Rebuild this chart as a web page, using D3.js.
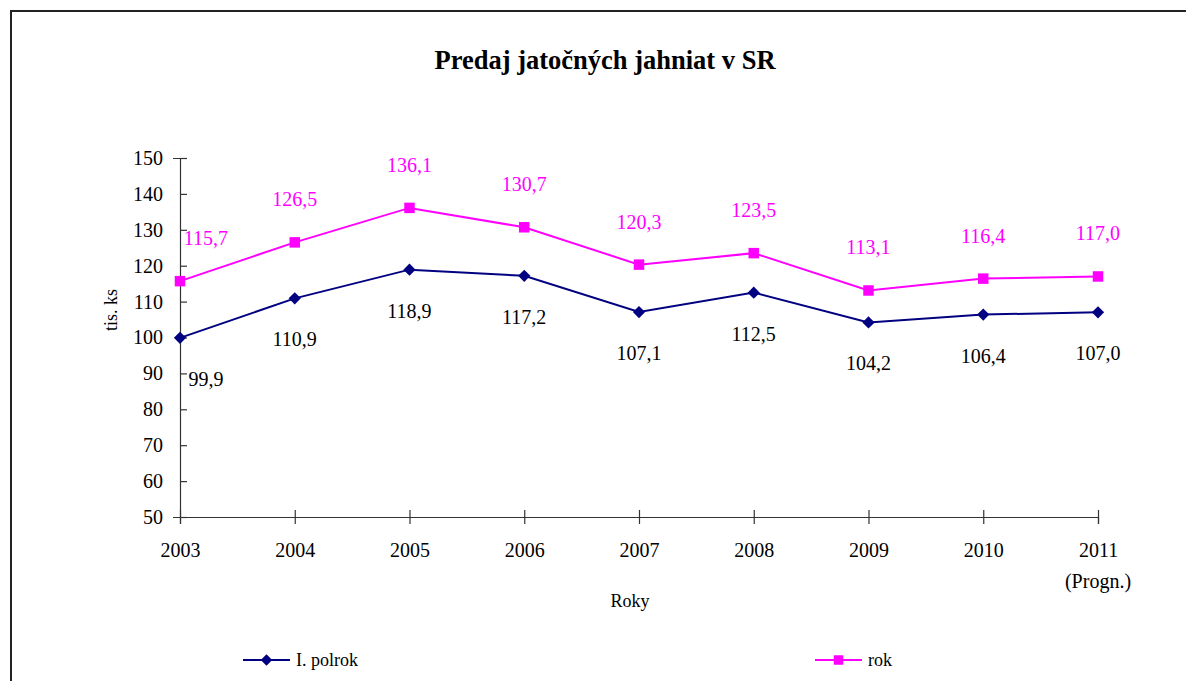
<!DOCTYPE html>
<html>
<head>
<meta charset="utf-8">
<script src="https://cdn.jsdelivr.net/npm/d3@7/dist/d3.min.js"></script>
<style>
  body { margin: 0; background: #fff; }
</style>
</head>
<body>
<div id="chart"></div>
<script>
'use strict';

var years = ['2003', '2004', '2005', '2006', '2007', '2008', '2009', '2010', '2011'];
var polrok = [99.9, 110.9, 118.9, 117.2, 107.1, 112.5, 104.2, 106.4, 107.0];
var rok = [115.7, 126.5, 136.1, 130.7, 120.3, 123.5, 113.1, 116.4, 117.0];
var yTicks = [50, 60, 70, 80, 90, 100, 110, 120, 130, 140, 150];

var width = 1186, height = 681;
var serif = "'Liberation Serif', 'Times New Roman', serif";
var fmt = function(v) { return v.toFixed(1).replace('.', ','); };

var svg = d3.select('#chart')
            .append('svg')
            .attr('width', width)
            .attr('height', height)
            .attr('font-family', serif);

// outer frame
svg.append('path')
   .attr('d', 'M11,' + height + 'V11H' + width)
   .attr('fill', 'none')
   .attr('stroke', '#222')
   .attr('stroke-width', 2);

var x = d3.scalePoint().domain(years).range([180, 1098]);
var y = d3.scaleLinear().domain([50, 150]).range([517, 158]);

// title
svg.append('text')
   .attr('x', 605)
   .attr('y', 69)
   .attr('text-anchor', 'middle')
   .attr('font-family', serif)
   .attr('font-size', 26.5)
   .attr('font-weight', 'bold')
   .text('Predaj jatočných jahniat v SR');

// y axis
var yAxis = svg.append('g')
   .attr('transform', 'translate(180,0)')
   .call(d3.axisLeft(y).tickValues(yTicks).tickSize(7).tickPadding(10));
yAxis.selectAll('.tick line').attr('x2', 7);

// x axis
var xAxis = svg.append('g')
   .attr('transform', 'translate(0,517)')
   .call(d3.axisBottom(x).tickSize(7).tickPadding(14));
xAxis.selectAll('.tick line').attr('y1', -7);

[yAxis, xAxis].forEach(function(ax) {
  ax.attr('font-family', serif);
  ax.select('.domain').attr('stroke', '#333').attr('stroke-width', 1.2);
  ax.selectAll('.tick line').attr('stroke', '#333').attr('stroke-width', 1.2);
  ax.selectAll('.tick text')
    .attr('font-size', 20)
    .attr('fill', '#000');
});
xAxis.selectAll('.tick text').attr('dy', '0.95em');

svg.append('text')
   .attr('x', x('2011'))
   .attr('y', 588)
   .attr('text-anchor', 'middle')
   .attr('font-size', 20)
   .text('(Progn.)');

// axis titles
svg.append('text')
   .attr('x', 630)
   .attr('y', 607)
   .attr('text-anchor', 'middle')
   .attr('font-size', 18)
   .text('Roky');

svg.append('text')
   .attr('transform', 'translate(117,310) rotate(-90)')
   .attr('text-anchor', 'middle')
   .attr('font-size', 18)
   .text('tis. ks');

var series = [
  { name: 'I. polrok', values: polrok, color: '#000080', shape: 'diamond', labelColor: '#000', dy: 48 },
  { name: 'rok', values: rok, color: '#FF00FF', shape: 'square', labelColor: '#FF00FF', dy: -36 }
];

var marker = function(sel, shape, size) {
  sel.attr('d', d3.symbol().type(d3.symbolSquare).size(size))
     .attr('fill', shape === 'square' ? '#FF00FF' : '#000080');
};

var line = d3.line()
  .x(function(d, i) { return x(years[i]); })
  .y(function(d) { return y(d); });

series.forEach(function(s) {
  svg.append('path')
     .datum(s.values)
     .attr('d', line)
     .attr('fill', 'none')
     .attr('stroke', s.color)
     .attr('stroke-width', 2);

  svg.selectAll(null)
     .data(s.values)
     .enter()
     .append('path')
     .call(marker, s.shape, s.shape === 'square' ? 110 : 75)
     .attr('transform', function(d, i) {
       return 'translate(' + x(years[i]) + ',' + y(d) + ')' + (s.shape === 'diamond' ? ' rotate(45)' : '');
     });

  svg.selectAll(null)
     .data(s.values)
     .enter()
     .append('text')
     .attr('x', function(d, i) { return x(years[i]) + (i === 0 ? 26 : 0); })
     .attr('y', function(d) { return y(d) + s.dy; })
     .attr('text-anchor', 'middle')
     .attr('font-size', 20)
     .attr('fill', s.labelColor)
     .text(fmt);
});

// legend
var legend = [
  { s: series[0], x: 243 },
  { s: series[1], x: 815 }
];
legend.forEach(function(l) {
  var g = svg.append('g').attr('transform', 'translate(' + l.x + ',660)');
  g.append('line')
   .attr('x1', 0).attr('x2', 47)
   .attr('stroke', l.s.color)
   .attr('stroke-width', 2);
  g.append('path')
   .call(marker, l.s.shape, l.s.shape === 'square' ? 90 : 65)
   .attr('transform', 'translate(23.5,0)' + (l.s.shape === 'diamond' ? ' rotate(45)' : ''));
  g.append('text')
   .attr('x', 53)
   .attr('y', 6)
   .attr('font-size', 18)
   .text(l.s.name);
});
</script>
</body>
</html>
